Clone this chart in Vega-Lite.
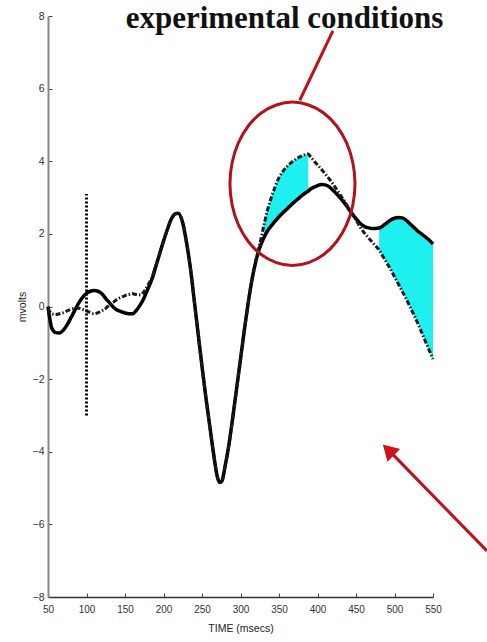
{
  "$schema": "https://vega.github.io/schema/vega-lite/v6.json",
  "width": 385,
  "height": 581,
  "autosize": {"type": "none"},
  "padding": {"left": 48, "top": 16, "right": 54, "bottom": 45},
  "background": "white",
  "title": {"text": "experimental conditions", "font": "Liberation Serif", "fontSize": 31, "fontWeight": "bold", "color": "#111", "anchor": "middle", "frame": "group", "dx": 44, "baseline": "alphabetic", "offset": 0, "dy": 48},
  "config": {
    "view": {"stroke": null},
    "axis": {"grid": false, "labelFont": "Liberation Sans", "labelFontSize": 10.5, "labelColor": "#333", "labelOverlap": false, "labelFlush": false, "labelBound": false, "titleFont": "Liberation Sans", "titleFontSize": 10.5, "titleFontWeight": "normal", "titleColor": "#222", "tickColor": "#444", "tickSize": -4, "tickWidth": 1}
  },
  "datasets": {
    "wave": [
      {"t": 50, "a": 0.0, "b": -0.05},
      {"t": 55, "a": -0.6, "b": -0.2},
      {"t": 60, "a": -0.72, "b": -0.22},
      {"t": 65, "a": -0.73, "b": -0.2},
      {"t": 70, "a": -0.65, "b": -0.17},
      {"t": 75, "a": -0.5, "b": -0.12},
      {"t": 80, "a": -0.3, "b": -0.08},
      {"t": 85, "a": -0.1, "b": -0.05},
      {"t": 90, "a": 0.1, "b": -0.05},
      {"t": 95, "a": 0.25, "b": -0.08},
      {"t": 100, "a": 0.36, "b": -0.12},
      {"t": 105, "a": 0.42, "b": -0.17},
      {"t": 110, "a": 0.44, "b": -0.2},
      {"t": 115, "a": 0.42, "b": -0.17},
      {"t": 120, "a": 0.35, "b": -0.12},
      {"t": 125, "a": 0.22, "b": -0.05},
      {"t": 130, "a": 0.1, "b": 0.05},
      {"t": 135, "a": -0.02, "b": 0.12},
      {"t": 140, "a": -0.1, "b": 0.2},
      {"t": 145, "a": -0.14, "b": 0.25},
      {"t": 150, "a": -0.18, "b": 0.3},
      {"t": 155, "a": -0.2, "b": 0.33},
      {"t": 160, "a": -0.2, "b": 0.35},
      {"t": 165, "a": -0.1, "b": 0.33},
      {"t": 170, "a": 0.05, "b": 0.32},
      {"t": 175, "a": 0.25, "b": 0.42},
      {"t": 180, "a": 0.5, "b": 0.6},
      {"t": 185, "a": 0.75, "b": 0.8},
      {"t": 190, "a": 1.1, "b": 1.12},
      {"t": 195, "a": 1.45, "b": 1.45},
      {"t": 200, "a": 1.8, "b": 1.8},
      {"t": 205, "a": 2.12, "b": 2.12},
      {"t": 210, "a": 2.4, "b": 2.4},
      {"t": 215, "a": 2.55, "b": 2.55},
      {"t": 219, "a": 2.57, "b": 2.57},
      {"t": 225, "a": 2.3, "b": 2.3},
      {"t": 230, "a": 1.75, "b": 1.75},
      {"t": 235, "a": 1.05, "b": 1.05},
      {"t": 240, "a": 0.15, "b": 0.15},
      {"t": 245, "a": -0.75, "b": -0.75},
      {"t": 250, "a": -1.65, "b": -1.65},
      {"t": 255, "a": -2.5, "b": -2.5},
      {"t": 260, "a": -3.28, "b": -3.28},
      {"t": 265, "a": -4.05, "b": -4.05},
      {"t": 270, "a": -4.7, "b": -4.7},
      {"t": 273, "a": -4.85, "b": -4.85},
      {"t": 276, "a": -4.8, "b": -4.8},
      {"t": 280, "a": -4.4, "b": -4.4},
      {"t": 285, "a": -3.8, "b": -3.8},
      {"t": 290, "a": -3.05, "b": -3.05},
      {"t": 295, "a": -2.25, "b": -2.25},
      {"t": 300, "a": -1.45, "b": -1.45},
      {"t": 305, "a": -0.65, "b": -0.65},
      {"t": 310, "a": 0.1, "b": 0.1},
      {"t": 315, "a": 0.75, "b": 0.75},
      {"t": 320, "a": 1.25, "b": 1.27},
      {"t": 325, "a": 1.62, "b": 1.72},
      {"t": 330, "a": 1.88, "b": 2.2},
      {"t": 335, "a": 2.08, "b": 2.65},
      {"t": 340, "a": 2.22, "b": 3.0},
      {"t": 345, "a": 2.35, "b": 3.3},
      {"t": 350, "a": 2.47, "b": 3.55},
      {"t": 355, "a": 2.58, "b": 3.72},
      {"t": 360, "a": 2.68, "b": 3.85},
      {"t": 365, "a": 2.78, "b": 3.95},
      {"t": 370, "a": 2.88, "b": 4.03},
      {"t": 375, "a": 2.97, "b": 4.1},
      {"t": 380, "a": 3.06, "b": 4.15},
      {"t": 385, "a": 3.14, "b": 4.19},
      {"t": 388, "a": 3.18, "b": 4.2},
      {"t": 390, "a": 3.22, "b": 4.15},
      {"t": 395, "a": 3.28, "b": 4.02},
      {"t": 400, "a": 3.33, "b": 3.9},
      {"t": 405, "a": 3.36, "b": 3.78},
      {"t": 410, "a": 3.35, "b": 3.65},
      {"t": 415, "a": 3.3, "b": 3.52},
      {"t": 420, "a": 3.2, "b": 3.38},
      {"t": 425, "a": 3.1, "b": 3.22},
      {"t": 430, "a": 2.98, "b": 3.06},
      {"t": 435, "a": 2.85, "b": 2.9},
      {"t": 440, "a": 2.7, "b": 2.72},
      {"t": 445, "a": 2.55, "b": 2.55},
      {"t": 450, "a": 2.42, "b": 2.38},
      {"t": 455, "a": 2.3, "b": 2.2},
      {"t": 460, "a": 2.22, "b": 2.05},
      {"t": 465, "a": 2.17, "b": 1.92},
      {"t": 470, "a": 2.15, "b": 1.8},
      {"t": 475, "a": 2.15, "b": 1.68},
      {"t": 480, "a": 2.16, "b": 1.56},
      {"t": 485, "a": 2.22, "b": 1.38},
      {"t": 490, "a": 2.3, "b": 1.2},
      {"t": 495, "a": 2.38, "b": 1.02},
      {"t": 500, "a": 2.43, "b": 0.82},
      {"t": 505, "a": 2.45, "b": 0.62},
      {"t": 510, "a": 2.44, "b": 0.42},
      {"t": 515, "a": 2.38, "b": 0.22},
      {"t": 520, "a": 2.28, "b": 0.0},
      {"t": 525, "a": 2.18, "b": -0.22},
      {"t": 530, "a": 2.08, "b": -0.45},
      {"t": 535, "a": 2.0, "b": -0.7},
      {"t": 540, "a": 1.92, "b": -0.95},
      {"t": 545, "a": 1.83, "b": -1.2},
      {"t": 550, "a": 1.72, "b": -1.45}
    ],
    "marker": [{"t": 100, "v1": -3.0, "v2": 3.1}],
    "ellipse": [
      {"i": 0, "t": 448.7, "v": 3.38},
      {"i": 1, "t": 445.9, "v": 3.96},
      {"i": 2, "t": 437.8, "v": 4.505},
      {"i": 3, "t": 424.9, "v": 4.97},
      {"i": 4, "t": 408.1, "v": 5.33},
      {"i": 5, "t": 388.5, "v": 5.55},
      {"i": 6, "t": 367.5, "v": 5.63},
      {"i": 7, "t": 346.5, "v": 5.55},
      {"i": 8, "t": 326.9, "v": 5.33},
      {"i": 9, "t": 310.1, "v": 4.97},
      {"i": 10, "t": 297.2, "v": 4.505},
      {"i": 11, "t": 289.1, "v": 3.96},
      {"i": 12, "t": 286.3, "v": 3.38},
      {"i": 13, "t": 289.1, "v": 2.8},
      {"i": 14, "t": 297.2, "v": 2.255},
      {"i": 15, "t": 310.1, "v": 1.79},
      {"i": 16, "t": 326.9, "v": 1.43},
      {"i": 17, "t": 346.5, "v": 1.21},
      {"i": 18, "t": 367.5, "v": 1.13},
      {"i": 19, "t": 388.5, "v": 1.21},
      {"i": 20, "t": 408.1, "v": 1.43},
      {"i": 21, "t": 424.9, "v": 1.79},
      {"i": 22, "t": 437.8, "v": 2.255},
      {"i": 23, "t": 445.9, "v": 2.8}
    ],
    "red": [
      {"seg": "top", "i": 0, "t": 377, "v": 5.68},
      {"seg": "top", "i": 1, "t": 420, "v": 7.59},
      {"seg": "arrow", "i": 0, "t": 493, "v": -3.97},
      {"seg": "arrow", "i": 1, "t": 620, "v": -6.73}
    ],
    "head": [{"t": 492, "v": -3.95}]
  },
  "encoding": {
    "x": {"field": "t", "type": "quantitative", "scale": {"domain": [50, 550], "nice": false, "zero": false},
      "axis": {"values": [50, 100, 150, 200, 250, 300, 350, 400, 450, 500, 550], "labelOverlap": false, "labelSeparation": 0, "labelFontSize": 10, "title": "TIME (msecs)", "domainColor": "#333", "domainWidth": 1.5, "labelPadding": 11, "titlePadding": 9}}
  },
  "layer": [
    {
      "data": {"name": "wave"},
      "transform": [{"filter": "datum.t >= 330 && datum.t <= 388"}],
      "mark": {"type": "area", "color": "#1ef0f0", "opacity": 1, "interpolate": "monotone"},
      "encoding": {
        "y": {"field": "b", "type": "quantitative", "scale": {"domain": [-8, 8], "nice": false, "zero": false},
          "axis": {"values": [-8, -6, -4, -2, 0, 2, 4, 6, 8], "title": "mvolts", "domainColor": "#888", "domainWidth": 2, "labelPadding": 8, "titlePadding": 5}},
        "y2": {"field": "a"}
      }
    },
    {
      "data": {"name": "wave"},
      "transform": [{"filter": "datum.t >= 480"}],
      "mark": {"type": "area", "color": "#1ef0f0", "opacity": 1, "interpolate": "monotone"},
      "encoding": {
        "y": {"field": "b", "type": "quantitative"},
        "y2": {"field": "a"}
      }
    },
    {
      "data": {"name": "wave"},
      "mark": {"type": "line", "color": "#000", "strokeWidth": 3.5, "interpolate": "monotone"},
      "encoding": {
        "y": {"field": "a", "type": "quantitative"}
      }
    },
    {
      "data": {"name": "wave"},
      "mark": {"type": "line", "color": "#1a1a1a", "strokeWidth": 3, "strokeDash": [5, 2, 1.5, 2], "interpolate": "monotone"},
      "encoding": {
        "y": {"field": "b", "type": "quantitative"}
      }
    },
    {
      "data": {"name": "marker"},
      "mark": {"type": "rule", "color": "#000", "strokeWidth": 3, "strokeDash": [2, 2]},
      "encoding": {
        "y": {"field": "v1", "type": "quantitative"},
        "y2": {"field": "v2"}
      }
    },
    {
      "data": {"name": "ellipse"},
      "mark": {"type": "line", "color": "#b3121c", "strokeWidth": 3, "interpolate": "cardinal-closed"},
      "encoding": {
        "y": {"field": "v", "type": "quantitative"},
        "order": {"field": "i"}
      }
    },
    {
      "data": {"name": "red"},
      "mark": {"type": "line", "color": "#c0101a", "strokeWidth": 3},
      "encoding": {
        "y": {"field": "v", "type": "quantitative"},
        "detail": {"field": "seg"},
        "order": {"field": "i"}
      }
    },
    {
      "data": {"name": "head"},
      "mark": {"type": "point", "shape": "triangle-up", "filled": true, "color": "#d0101a", "opacity": 1, "size": 320, "angle": 315},
      "encoding": {
        "y": {"field": "v", "type": "quantitative"}
      }
    }
  ]
}
